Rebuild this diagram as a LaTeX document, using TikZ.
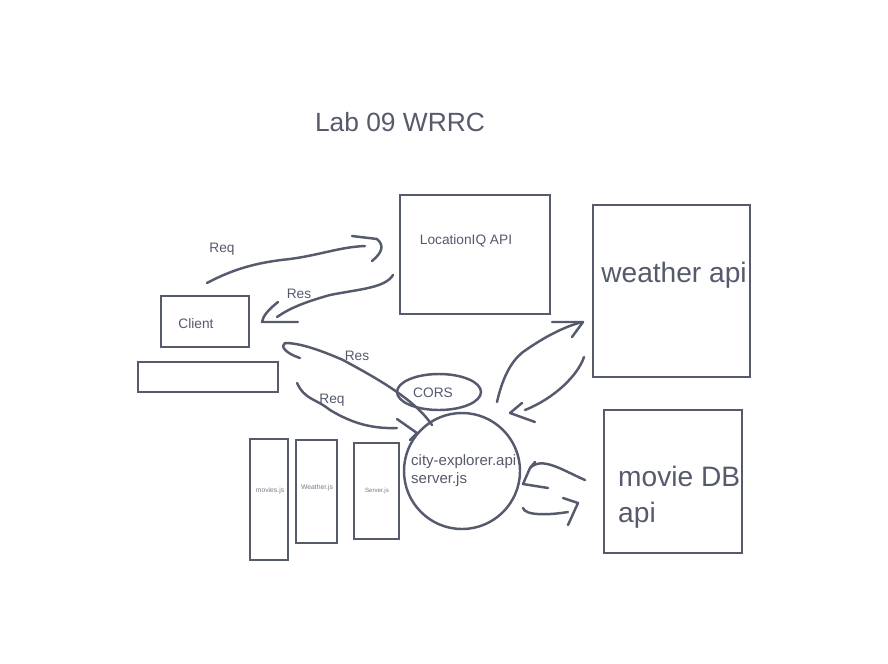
\documentclass[tikz,border=0pt]{standalone}
\usepackage{fontspec}
\setmainfont{Liberation Sans}
\usetikzlibrary{shapes.geometric}
\definecolor{ink}{RGB}{85,90,108}
\begin{document}
\begin{tikzpicture}[x=0.03cm, y=-0.03cm, color=ink, line width=2.1pt,
    box/.style={draw, rectangle, inner sep=0pt},
    sketch/.style={line cap=round, line join=round},
    lbl/.style={inner sep=0pt, font=\fontsize{11.7}{14}\selectfont},
    tiny/.style={inner sep=0pt, font=\fontsize{5.8}{7}\selectfont, text=ink!80}]
    \fill[white] (0,0) rectangle (888,663);
    \useasboundingbox (0,0) rectangle (888,663);
    \node[inner sep=0pt, font=\fontsize{22.5}{26}\selectfont] (title)
        at (400,122) {Lab 09 WRRC};
    % boxes
    \node[box, minimum width=4.5cm, minimum height=3.57cm] (loc) at (475,254.5) {};
    \node[lbl] (loctext) at (466,241) {LocationIQ API};
    \node[box, minimum width=4.71cm, minimum height=5.16cm] (weather) at (671.5,291) {};
    \node[inner sep=0pt, font=\fontsize{24}{28}\selectfont] (weathertext)
        at (674,275) {weather api};
    \node[box, minimum width=4.14cm, minimum height=4.29cm] (movie) at (673,481.5) {};
    \node[inner sep=0pt, anchor=west, align=left, font=\fontsize{24}{30.6}\selectfont]
        (movietext) at (617,497) {movie DB\\api};
    \node[box, minimum width=2.64cm, minimum height=1.53cm] (client) at (205,321.5) {};
    \node[lbl] (clienttext) at (196,324) {Client};
    \node[box, minimum width=4.2cm, minimum height=0.9cm] (blank) at (208,377) {};
    \node[box, minimum width=1.14cm, minimum height=3.63cm] (moviesjs) at (269,499.5) {};
    \node[tiny] at (270,491) {movies.js};
    \node[box, minimum width=1.23cm, minimum height=3.09cm] (weatherjs) at (316.5,491.5) {};
    \node[tiny] at (317,488) {Weather.js};
    \node[box, minimum width=1.35cm, minimum height=2.88cm] (serverjs) at (376.5,491) {};
    \node[tiny, font=\fontsize{5.2}{6}\selectfont] at (377,491) {Server.js};
    \node[draw, ellipse, inner sep=0pt, minimum width=2.52cm, minimum height=1.08cm]
        (cors) at (439,392) {};
    \node[lbl] (corstext) at (433,393) {CORS};
    \node[draw, circle, inner sep=0pt, minimum size=3.48cm] (server) at (462,471) {};
    \node[inner sep=0pt, anchor=west, align=left, font=\fontsize{12.8}{15.3}\selectfont]
        (servertext) at (410,471) {city-explorer.api\\server.js};
    % client <-> locationiq
    \draw[sketch] (207,283) .. controls (235,268) and (260,262) .. (290,259)
        .. controls (320,255) and (340,247) .. (365,246);
    \draw[sketch] (352,236) -- (377,239) .. controls (384,245) and (383,252) .. (372,261);
    \node[lbl] at (222,249) {Req};
    \draw[sketch] (393,275) .. controls (385,288) and (360,289) .. (330,295)
        .. controls (305,302) and (290,308) .. (277,317);
    \draw[sketch] (278,302) .. controls (268,310) and (263,316) .. (262,322) -- (298,322);
    \node[lbl] at (299,294) {Res};
    % client <-> server
    \draw[sketch] (432,425) .. controls (415,400) and (380,380) .. (343,360)
        .. controls (320,350) and (300,343) .. (285,343)
        .. controls (280,346) and (285,353) .. (300,358);
    \node[lbl] at (357,356) {Res};
    \draw[sketch] (297,383) .. controls (305,400) and (315,398) .. (330,410)
        .. controls (350,422) and (370,429) .. (397,428);
    \draw[sketch] (397,419) -- (417,433) -- (410,440);
    \node[lbl] at (332,400) {Req};
    % server <-> weather
    \draw[sketch] (497,402) .. controls (502,380) and (510,362) .. (523,352)
        .. controls (540,340) and (560,328) .. (582,322);
    \draw[sketch] (552,322) -- (583,322) -- (572,337);
    \draw[sketch] (584,357) .. controls (578,375) and (555,398) .. (525,410);
    \draw[sketch] (522,403) -- (510,413) -- (535,422);
    % server <-> movie
    \draw[sketch] (585,480) .. controls (562,470) and (542,456) .. (530,468) -- (523,484) -- (548,488);
    \draw[sketch] (530,468) -- (535,462);
    \draw[sketch] (523,508) .. controls (525,516) and (550,515) .. (568,512);
    \draw[sketch] (563,498) -- (578,503) -- (568,525);
\end{tikzpicture}
\end{document}
